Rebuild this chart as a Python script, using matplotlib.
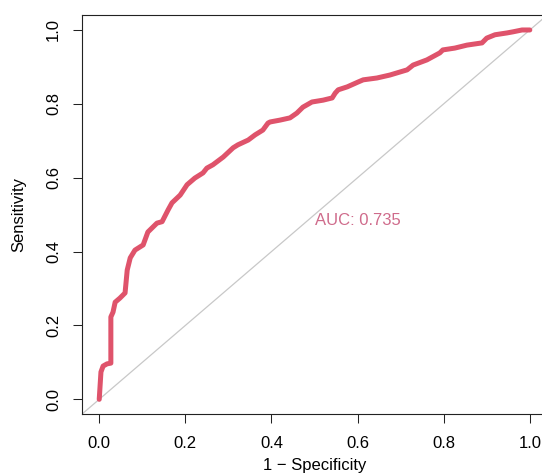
import matplotlib
matplotlib.use("Agg")
import matplotlib.pyplot as plt

plt.rcParams["font.family"] = ["Liberation Sans", "DejaVu Sans"]

# ROC curve (1 - specificity, sensitivity)
fpr = [0.000, 0.004, 0.009, 0.018, 0.027, 0.027, 0.032, 0.037, 0.048, 0.060,
       0.065, 0.072, 0.083, 0.102, 0.113, 0.134, 0.146, 0.160, 0.169, 0.188,
       0.204, 0.222, 0.241, 0.250, 0.264, 0.288, 0.311, 0.322, 0.346, 0.362,
       0.380, 0.392, 0.397, 0.420, 0.443, 0.459, 0.473, 0.494, 0.520, 0.541,
       0.548, 0.555, 0.576, 0.601, 0.613, 0.645, 0.675, 0.715, 0.729, 0.761,
       0.791, 0.798, 0.826, 0.854, 0.889, 0.900, 0.919, 0.947, 0.961, 0.982,
       1.000]
tpr = [0.000, 0.074, 0.090, 0.096, 0.098, 0.223, 0.236, 0.263, 0.274, 0.288,
       0.350, 0.383, 0.404, 0.418, 0.453, 0.477, 0.481, 0.513, 0.532, 0.553,
       0.581, 0.599, 0.613, 0.626, 0.635, 0.656, 0.681, 0.689, 0.702, 0.716,
       0.729, 0.748, 0.751, 0.756, 0.762, 0.775, 0.791, 0.805, 0.810, 0.816,
       0.829, 0.838, 0.846, 0.859, 0.865, 0.870, 0.878, 0.892, 0.905, 0.919,
       0.938, 0.946, 0.951, 0.959, 0.965, 0.978, 0.987, 0.992, 0.995, 1.000,
       1.000]
auc_label = "AUC: 0.735"
ticks = [0.0, 0.2, 0.4, 0.6, 0.8, 1.0]

fig = plt.figure(figsize=(5.42, 4.75), dpi=100)
ax = fig.add_axes([0.1513, 0.1282, 0.858, 0.8398])

ax.axline((0, 0), (1, 1), color="#c8c8c8", linewidth=0.9, zorder=1)
ax.plot(fpr, tpr, color="#DF536B", linewidth=3.6, solid_capstyle="round",
        solid_joinstyle="round", zorder=3)
ax.text(0.501, 0.484, auc_label, color="#cf6b8b", fontsize=12,
        ha="left", va="center")

ax.set_xlim(-0.04, 1.04)
ax.set_ylim(-0.04, 1.04)
ax.set_xticks(ticks)
ax.set_yticks(ticks)
ax.set_xticklabels([f"{t:.1f}" for t in ticks])
ax.set_yticklabels([f"{t:.1f}" for t in ticks], rotation=90, va="center")
ax.tick_params(axis="both", labelsize=12, length=6.5, width=0.75,
               color="#222222")
ax.tick_params(axis="x", pad=9)
ax.tick_params(axis="y", pad=8.5)
for sp in ax.spines.values():
    sp.set_linewidth(0.8)
    sp.set_color("#222222")

ax.set_xlabel("1 \u2212 Specificity", fontsize=12)
ax.set_ylabel("Sensitivity", fontsize=12)
ax.xaxis.label.set_va("center")
ax.yaxis.label.set_va("center")
ax.xaxis.set_label_coords(0.5, -0.1276)
ax.yaxis.set_label_coords(-0.1355, 0.5)

fig.savefig("out.png", dpi=100)
